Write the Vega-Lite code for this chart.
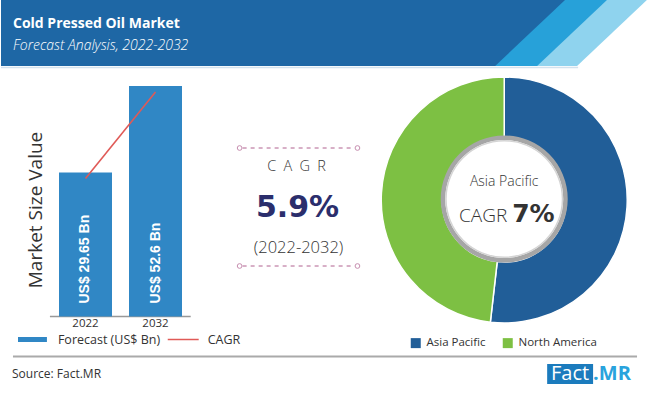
{
  "$schema": "https://vega.github.io/schema/vega-lite/v6.json",
  "width": 650,
  "height": 393,
  "autosize": {"type": "fit", "contains": "padding"},
  "padding": 0,
  "background": "white",
  "config": {"view": {"stroke": null}, "text": {"font": "Open Sans"}},
  "datasets": {
    "bars": [
      {"year": "2022", "value": 29.65, "label": "US$ 29.65 Bn"},
      {"year": "2032", "value": 52.6, "label": "US$ 52.6 Bn"}
    ],
    "regions": [
      {"region": "Asia Pacific", "share": 51.8},
      {"region": "North America", "share": 48.2}
    ]
  },
  "resolve": {"scale": {"x": "independent", "y": "independent", "color": "independent", "theta": "independent"}},
  "layer": [
    {
      "data": {"values": [{}]},
      "layer": [
        {"mark": {"type": "rect", "fill": "#1e67a5"},
         "encoding": {"x": {"datum": 0, "type": "quantitative", "scale": {"domain": [0, 650], "nice": false, "zero": false}, "axis": null},
                      "x2": {"datum": 650},
                      "y": {"datum": 0, "type": "quantitative", "scale": {"domain": [0, 393], "nice": false, "zero": false, "reverse": true}, "axis": null},
                      "y2": {"datum": 66}}},
        {"mark": {"type": "rule", "stroke": "#27a1d9", "strokeWidth": 137.3, "strokeCap": "butt", "clip": true},
         "encoding": {"x": {"datum": 771, "type": "quantitative"}, "x2": {"datum": 453}, "y": {"datum": -100, "type": "quantitative"}, "y2": {"datum": 200}}},
        {"mark": {"type": "rule", "stroke": "#8fd3ee", "strokeWidth": 137.3, "strokeCap": "butt", "clip": true},
         "encoding": {"x": {"datum": 813, "type": "quantitative"}, "x2": {"datum": 495}, "y": {"datum": -100, "type": "quantitative"}, "y2": {"datum": 200}}},
        {"mark": {"type": "rule", "stroke": "#ffffff", "strokeWidth": 137.3, "strokeCap": "butt", "clip": true},
         "encoding": {"x": {"datum": 853, "type": "quantitative"}, "x2": {"datum": 535}, "y": {"datum": -100, "type": "quantitative"}, "y2": {"datum": 200}}},
        {"mark": {"type": "rect", "fill": "#ffffff"},
         "encoding": {"x": {"datum": 250, "type": "quantitative"}, "x2": {"datum": 650}, "y": {"datum": 66, "type": "quantitative"}, "y2": {"datum": 393}}},
        {"mark": {"type": "rule", "stroke": "#d3e2ee", "strokeWidth": 1.5},
         "encoding": {"x": {"datum": 0, "type": "quantitative"}, "x2": {"datum": 578}, "y": {"datum": 67.5, "type": "quantitative"}}},
        {"mark": {"type": "text", "text": "Cold Pressed Oil Market", "fontSize": 14, "fontWeight": "bold", "color": "white", "align": "left", "baseline": "alphabetic"},
         "encoding": {"x": {"datum": 12, "type": "quantitative"}, "y": {"datum": 28, "type": "quantitative"}}},
        {"mark": {"type": "text", "text": "Forecast Analysis, 2022-2032", "fontSize": 14, "fontStyle": "italic", "fontWeight": 300, "color": "white", "align": "left", "baseline": "alphabetic"},
         "encoding": {"x": {"datum": 12, "type": "quantitative"}, "y": {"datum": 50, "type": "quantitative"}}},
        {"mark": {"type": "text", "text": "Market Size Value", "fontSize": 19, "color": "#333333", "angle": 270, "align": "center", "baseline": "middle"},
         "encoding": {"x": {"datum": 35, "type": "quantitative"}, "y": {"datum": 210, "type": "quantitative"}}},
        {"mark": {"type": "rule", "stroke": "#999999", "strokeWidth": 1.5},
         "encoding": {"x": {"datum": 49, "type": "quantitative"}, "x2": {"datum": 190}, "y": {"datum": 316.5, "type": "quantitative"}}},
        {"mark": {"type": "rule", "stroke": "#3087c5", "strokeWidth": 5},
         "encoding": {"x": {"datum": 17, "type": "quantitative"}, "x2": {"datum": 46}, "y": {"datum": 339.5, "type": "quantitative"}}},
        {"mark": {"type": "text", "text": "Forecast (US$ Bn)", "fontSize": 12.5, "color": "#333333", "align": "left", "baseline": "middle"},
         "encoding": {"x": {"datum": 57, "type": "quantitative"}, "y": {"datum": 339.5, "type": "quantitative"}}},
        {"mark": {"type": "rule", "stroke": "#e05a57", "strokeWidth": 1.5},
         "encoding": {"x": {"datum": 167, "type": "quantitative"}, "x2": {"datum": 198}, "y": {"datum": 339.5, "type": "quantitative"}}},
        {"mark": {"type": "text", "text": "CAGR", "fontSize": 12.5, "color": "#333333", "align": "left", "baseline": "middle"},
         "encoding": {"x": {"datum": 207, "type": "quantitative"}, "y": {"datum": 339.5, "type": "quantitative"}}},
        {"mark": {"type": "rule", "stroke": "#aaaaaa", "strokeWidth": 2},
         "encoding": {"x": {"datum": 12, "type": "quantitative"}, "x2": {"datum": 637}, "y": {"datum": 356.5, "type": "quantitative"}}},
        {"mark": {"type": "text", "text": "Source: Fact.MR", "fontSize": 12, "color": "#333333", "align": "left", "baseline": "middle"},
         "encoding": {"x": {"datum": 11, "type": "quantitative"}, "y": {"datum": 374, "type": "quantitative"}}},
        {"mark": {"type": "rect", "fill": "#1b7bbd"},
         "encoding": {"x": {"datum": 547, "type": "quantitative"}, "x2": {"datum": 593}, "y": {"datum": 364, "type": "quantitative"}, "y2": {"datum": 384}}},
        {"mark": {"type": "text", "text": "Fact", "fontSize": 20, "color": "white", "align": "center", "baseline": "middle"},
         "encoding": {"x": {"datum": 570, "type": "quantitative"}, "y": {"datum": 374, "type": "quantitative"}}},
        {"mark": {"type": "text", "text": ".MR", "fontSize": 20, "fontWeight": "bold", "color": "#29a3dd", "align": "left", "baseline": "middle"},
         "encoding": {"x": {"datum": 593, "type": "quantitative"}, "y": {"datum": 374, "type": "quantitative"}}},
        {"mark": {"type": "rule", "stroke": "#b0608f", "strokeWidth": 1, "strokeDash": [4, 4]},
         "encoding": {"x": {"datum": 242, "type": "quantitative"}, "x2": {"datum": 354}, "y": {"datum": 148, "type": "quantitative"}}},
        {"mark": {"type": "rule", "stroke": "#b0608f", "strokeWidth": 1, "strokeDash": [4, 4]},
         "encoding": {"x": {"datum": 242, "type": "quantitative"}, "x2": {"datum": 354}, "y": {"datum": 266, "type": "quantitative"}}},
        {"mark": {"type": "point", "shape": "circle", "size": 22, "stroke": "#b0608f", "strokeWidth": 1, "fill": "white", "filled": true},
         "encoding": {"x": {"datum": 239, "type": "quantitative"}, "y": {"datum": 148, "type": "quantitative"}}},
        {"mark": {"type": "point", "shape": "circle", "size": 22, "stroke": "#b0608f", "strokeWidth": 1, "fill": "white", "filled": true},
         "encoding": {"x": {"datum": 357, "type": "quantitative"}, "y": {"datum": 148, "type": "quantitative"}}},
        {"mark": {"type": "point", "shape": "circle", "size": 22, "stroke": "#b0608f", "strokeWidth": 1, "fill": "white", "filled": true},
         "encoding": {"x": {"datum": 239, "type": "quantitative"}, "y": {"datum": 266, "type": "quantitative"}}},
        {"mark": {"type": "point", "shape": "circle", "size": 22, "stroke": "#b0608f", "strokeWidth": 1, "fill": "white", "filled": true},
         "encoding": {"x": {"datum": 357, "type": "quantitative"}, "y": {"datum": 266, "type": "quantitative"}}},
        {"mark": {"type": "text", "text": "C\u2002A\u2002G\u2002R", "fontSize": 14.5, "fontWeight": 300, "color": "#333333", "align": "center", "baseline": "middle"},
         "encoding": {"x": {"datum": 296, "type": "quantitative"}, "y": {"datum": 167, "type": "quantitative"}}},
        {"mark": {"type": "text", "text": "5.9%", "font": "DejaVu Sans", "fontSize": 30, "fontWeight": "bold", "color": "#2b2e6c", "align": "center", "baseline": "middle"},
         "encoding": {"x": {"datum": 297, "type": "quantitative"}, "y": {"datum": 208, "type": "quantitative"}}},
        {"mark": {"type": "text", "text": "(2022-2032)", "fontSize": 16.5, "fontWeight": 300, "color": "#333333", "align": "center", "baseline": "middle"},
         "encoding": {"x": {"datum": 298, "type": "quantitative"}, "y": {"datum": 248, "type": "quantitative"}}},
        {"data": {"name": "regions"},
         "mark": {"type": "arc", "outerRadius": 123, "innerRadius": 62, "stroke": "white", "strokeWidth": 1.5},
         "encoding": {"x": {"datum": 504, "type": "quantitative"}, "y": {"datum": 200, "type": "quantitative"},
                      "theta": {"field": "share", "type": "quantitative", "stack": true},
                      "color": {"field": "region", "type": "nominal",
                                "scale": {"domain": ["Asia Pacific", "North America"], "range": ["#215e98", "#7dc043"]},
                                "legend": {"orient": "none", "legendX": 409, "legendY": 337, "direction": "horizontal", "title": null,
                                           "symbolType": "square", "symbolSize": 100, "symbolStrokeWidth": 0, "labelFontSize": 11.5,
                                           "labelColor": "#333333", "labelFont": "Open Sans", "labelOffset": 5, "columnPadding": 16, "padding": 0}}}},
        {"mark": {"type": "arc", "theta": 0, "theta2": 6.2832, "outerRadius": 63.5, "innerRadius": 59, "fill": "#a6a6a6"},
         "encoding": {"x": {"datum": 504, "type": "quantitative"}, "y": {"datum": 199, "type": "quantitative"}}},
        {"mark": {"type": "arc", "theta": 0, "theta2": 6.2832, "outerRadius": 59, "innerRadius": 57.5, "fill": "#d4d4d4"},
         "encoding": {"x": {"datum": 504, "type": "quantitative"}, "y": {"datum": 199, "type": "quantitative"}}},
        {"mark": {"type": "text", "text": "Asia Pacific", "fontSize": 14, "fontWeight": 300, "color": "#333333", "align": "center", "baseline": "middle"},
         "encoding": {"x": {"datum": 504, "type": "quantitative"}, "y": {"datum": 182, "type": "quantitative"}}},
        {"mark": {"type": "text", "text": "CAGR", "fontSize": 19, "fontWeight": 300, "color": "#333333", "align": "right", "baseline": "alphabetic"},
         "encoding": {"x": {"datum": 507, "type": "quantitative"}, "y": {"datum": 222, "type": "quantitative"}}},
        {"mark": {"type": "text", "text": "7%", "font": "DejaVu Sans", "fontSize": 25, "fontWeight": "bold", "color": "#333333", "align": "left", "baseline": "alphabetic"},
         "encoding": {"x": {"datum": 512, "type": "quantitative"}, "y": {"datum": 222, "type": "quantitative"}}}
      ]
    },
    {
      "data": {"name": "bars"},
      "layer": [
        {"mark": {"type": "bar", "color": "#3087c5"},
         "encoding": {"x": {"field": "year", "type": "nominal", "scale": {"type": "band", "range": [58, 181], "paddingInner": 0.243, "paddingOuter": 0}, "axis": null},
                      "y": {"field": "value", "type": "quantitative", "scale": {"domain": [-8.56, 52.6], "range": [316.5, 86], "nice": false, "zero": false}, "axis": null},
                      "y2": {"datum": -8.56}}},
        {"mark": {"type": "text", "angle": 270, "align": "left", "baseline": "middle", "dx": 13, "fontSize": 14, "fontWeight": "bold", "font": "Liberation Sans", "color": "white"},
         "encoding": {"x": {"field": "year", "type": "nominal"}, "y": {"datum": -8.56, "type": "quantitative"}, "text": {"field": "label"}}},
        {"mark": {"type": "text", "align": "center", "baseline": "middle", "dy": 7.5, "fontSize": 11.5, "color": "#333333"},
         "encoding": {"x": {"field": "year", "type": "nominal"}, "y": {"datum": -8.56, "type": "quantitative"}, "text": {"field": "year"}}},
        {"mark": {"type": "line", "color": "#e05a57", "strokeWidth": 1.6, "yOffset": 6},
         "encoding": {"x": {"field": "year", "type": "nominal"}, "y": {"field": "value", "type": "quantitative"}}}
      ]
    }
  ]
}
